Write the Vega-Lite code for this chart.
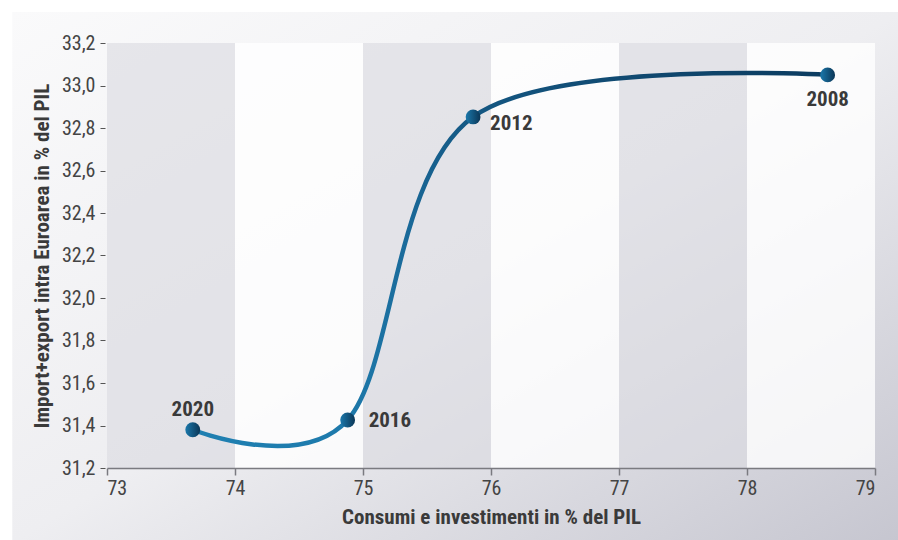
{
  "$schema": "https://vega.github.io/schema/vega-lite/v6.json",
  "width": 768,
  "height": 425,
  "autosize": {"type": "none"},
  "padding": {"left": 107, "top": 43, "right": 23, "bottom": 72},
  "background": "#ffffff",
  "config": {
    "view": {"stroke": null},
    "font": "Roboto Condensed, Liberation Sans Narrow, Roboto, sans-serif"
  },
  "datasets": {
    "bands": [
      {"from": 73, "to": 74, "shade": "grey"},
      {"from": 74, "to": 75, "shade": "white"},
      {"from": 75, "to": 76, "shade": "grey"},
      {"from": 76, "to": 77, "shade": "white"},
      {"from": 77, "to": 78, "shade": "grey"},
      {"from": 78, "to": 79, "shade": "white"}
    ],
    "points": [
      {"year": 2008, "consumi": 78.63, "trade": 33.05},
      {"year": 2012, "consumi": 75.86, "trade": 32.852},
      {"year": 2016, "consumi": 74.88, "trade": 31.426},
      {"year": 2020, "consumi": 73.67, "trade": 31.38}
    ]
  },
  "layer": [
    {
      "data": {"values": [{}]},
      "mark": {
        "type": "rect",
        "fill": {
          "gradient": "linear",
          "x1": 0, "y1": 0, "x2": 1, "y2": 1,
          "stops": [
            {"offset": 0, "color": "#fafafb"},
            {"offset": 0.5, "color": "#eeeef1"},
            {"offset": 1, "color": "#c6c6d0"}
          ]
        }
      },
      "encoding": {
        "x": {"datum": 72.26, "type": "quantitative", "scale": {"domain": [73, 79], "nice": false, "zero": false}},
        "x2": {"datum": 79.2},
        "y": {"datum": 33.346, "type": "quantitative", "scale": {"domain": [31.2, 33.2], "nice": false, "zero": false}},
        "y2": {"datum": 30.85}
      }
    },
    {
      "data": {"name": "bands"},
      "transform": [{"filter": "datum.shade === 'grey'"}],
      "mark": {"type": "rect", "fill": "#dcdce2", "fillOpacity": 0.65},
      "encoding": {
        "x": {"field": "from", "type": "quantitative"},
        "x2": {"field": "to"},
        "y": {"datum": 31.2, "type": "quantitative"},
        "y2": {"datum": 33.2}
      }
    },
    {
      "data": {"name": "bands"},
      "transform": [{"filter": "datum.shade === 'white'"}],
      "mark": {"type": "rect", "fill": "#ffffff", "fillOpacity": 0.8},
      "encoding": {
        "x": {"field": "from", "type": "quantitative"},
        "x2": {"field": "to"},
        "y": {"datum": 31.2, "type": "quantitative"},
        "y2": {"datum": 33.2}
      }
    },
    {
      "data": {"name": "points"},
      "mark": {
        "type": "line",
        "interpolate": "cardinal",
        "strokeWidth": 4.5,
        "stroke": {
          "gradient": "linear",
          "x1": 0, "y1": 1, "x2": 1, "y2": 0,
          "stops": [
            {"offset": 0, "color": "#1f80b2"},
            {"offset": 0.45, "color": "#1a6a9a"},
            {"offset": 1, "color": "#0c3c60"}
          ]
        }
      },
      "encoding": {
        "x": {
          "field": "consumi", "type": "quantitative",
          "scale": {"domain": [73, 79], "nice": false, "zero": false},
          "axis": {
            "zindex": 1,
            "title": "Consumi e investimenti in % del PIL",
            "values": [73, 74, 75, 76, 77, 78, 79],
            "format": "d",
            "grid": false,
            "domainColor": "#7a7a80",
            "domainWidth": 1.5,
            "tickColor": "#7a7a80",
            "tickWidth": 1.5,
            "tickSize": 7,
            "labelFontSize": 20,
            "labelColor": "#444444",
            "labelPadding": 3,
            "titleFontSize": 21,
            "titleFontWeight": "bold",
            "titleColor": "#3a3a3a",
            "titlePadding": 8
          }
        },
        "y": {
          "field": "trade", "type": "quantitative",
          "scale": {"domain": [31.2, 33.2], "nice": false, "zero": false},
          "axis": {
            "zindex": 1,
            "title": "Import+export intra Euroarea in % del PIL",
            "values": [31.2, 31.4, 31.6, 31.8, 32.0, 32.2, 32.4, 32.6, 32.8, 33.0, 33.2],
            "labelExpr": "replace(format(datum.value, '.1f'), '.', ',')",
            "grid": false,
            "domain": false,
            "offset": 2,
            "tickColor": "#555555",
            "tickWidth": 1,
            "tickSize": 5,
            "labelFontSize": 20,
            "labelColor": "#444444",
            "labelPadding": 5,
            "titleFontSize": 21,
            "titleFontWeight": "bold",
            "titleColor": "#3a3a3a",
            "titlePadding": 9
          }
        },
        "order": {"field": "year", "type": "quantitative", "sort": "descending"}
      }
    },
    {
      "data": {"name": "points"},
      "mark": {
        "type": "point",
        "filled": true,
        "size": 220,
        "opacity": 1,
        "fill": {
          "gradient": "linear",
          "x1": 0, "y1": 0, "x2": 1, "y2": 0,
          "stops": [
            {"offset": 0, "color": "#1b78ab"},
            {"offset": 1, "color": "#0b3656"}
          ]
        }
      },
      "encoding": {
        "x": {"field": "consumi", "type": "quantitative"},
        "y": {"field": "trade", "type": "quantitative"}
      }
    },
    {
      "data": {"name": "points"},
      "transform": [{"filter": "datum.year === 2020"}],
      "mark": {"type": "text", "align": "center", "baseline": "bottom", "dy": -10, "fontSize": 21, "fontWeight": "bold", "color": "#3a3a3a"},
      "encoding": {
        "x": {"field": "consumi", "type": "quantitative"},
        "y": {"field": "trade", "type": "quantitative"},
        "text": {"field": "year"}
      }
    },
    {
      "data": {"name": "points"},
      "transform": [{"filter": "datum.year === 2016"}],
      "mark": {"type": "text", "align": "left", "baseline": "middle", "dx": 21, "dy": 1, "fontSize": 21, "fontWeight": "bold", "color": "#3a3a3a"},
      "encoding": {
        "x": {"field": "consumi", "type": "quantitative"},
        "y": {"field": "trade", "type": "quantitative"},
        "text": {"field": "year"}
      }
    },
    {
      "data": {"name": "points"},
      "transform": [{"filter": "datum.year === 2012"}],
      "mark": {"type": "text", "align": "left", "baseline": "middle", "dx": 17, "dy": 7, "fontSize": 21, "fontWeight": "bold", "color": "#3a3a3a"},
      "encoding": {
        "x": {"field": "consumi", "type": "quantitative"},
        "y": {"field": "trade", "type": "quantitative"},
        "text": {"field": "year"}
      }
    },
    {
      "data": {"name": "points"},
      "transform": [{"filter": "datum.year === 2008"}],
      "mark": {"type": "text", "align": "center", "baseline": "top", "dy": 14, "fontSize": 21, "fontWeight": "bold", "color": "#3a3a3a"},
      "encoding": {
        "x": {"field": "consumi", "type": "quantitative"},
        "y": {"field": "trade", "type": "quantitative"},
        "text": {"field": "year"}
      }
    }
  ]
}
